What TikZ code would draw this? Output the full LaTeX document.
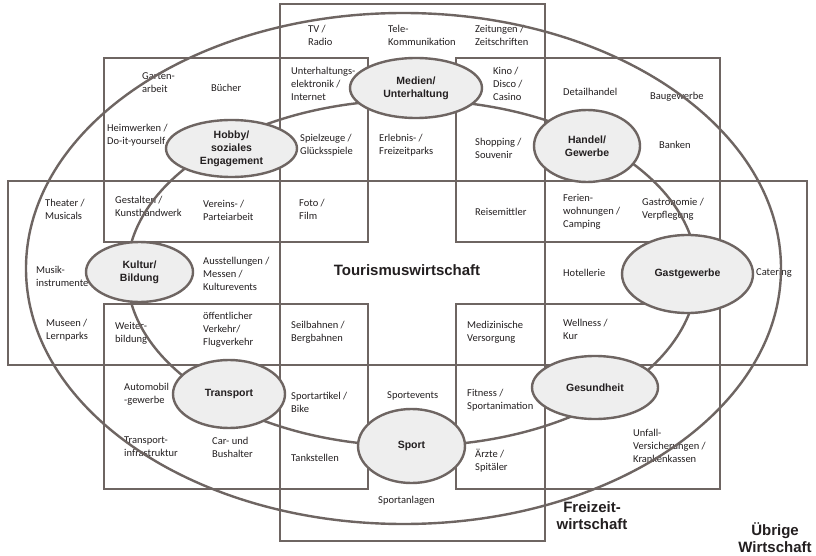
\documentclass[tikz,border=0pt]{standalone}
\usepackage{fontspec}
\setmainfont{Carlito}
\newfontfamily\headfont{Liberation Sans}
\usetikzlibrary{shapes.geometric}
\definecolor{frame}{RGB}{110,101,98}
\definecolor{bubble}{RGB}{238,238,238}
\definecolor{ink}{RGB}{35,31,32}
\begin{document}
\begin{tikzpicture}[x=1pt,y=-1pt,
  item/.style={anchor=west, align=left, inner sep=0pt,
    font=\fontsize{10.5}{13}\selectfont, text=ink},
  field/.style={draw=frame, line width=2.6pt},
  ring/.style={draw=frame, line width=2.4pt},
  sector/.style={ellipse, draw=frame, line width=2.4pt, fill=bubble,
    inner sep=0pt, align=center,
    font=\headfont\bfseries\fontsize{10.5}{13}\selectfont, text=ink},
  title/.style={align=center, inner sep=0pt,
    font=\headfont\bfseries\fontsize{15}{17}\selectfont, text=ink}]

\useasboundingbox[fill=white] (0,0) rectangle (816,556);

% ---- branch labels ----
% top row
\node[item] (tv)      at (308,35)  {TV /\\Radio};
\node[item] (tele)    at (388,35)  {Tele-\\Kommunikation};
\node[item] (zeit)    at (475,35)  {Zeitungen /\\Zeitschriften};
% upper left block
\node[item] (garten)  at (142,83)  {Garten-\\arbeit};
\node[item] (buecher) at (211,88)  {Bücher};
\node[item] (heim)    at (107,135) {Heimwerken /\\Do-it-yourself};
% upper middle
\node[item] (ue)      at (291,84)  {Unterhaltungs-\\elektronik /\\Internet};
\node[item] (kino)    at (493,84)  {Kino /\\Disco /\\Casino};
\node[item] (spiel)   at (300,145) {Spielzeuge /\\Glücksspiele};
\node[item] (erleb)   at (379,145) {Erlebnis- /\\Freizeitparks};
\node[item] (shop)    at (475,148) {Shopping /\\Souvenir};
% upper right block
\node[item] (detail)  at (563,92)  {Detailhandel};
\node[item] (bau)     at (650,97)  {Baugewerbe};
\node[item] (banken)  at (659,145) {Banken};
% middle band, left
\node[item] (theater) at (45,209)  {Theater /\\Musicals};
\node[item] (gestalt) at (115,206) {Gestalten /\\Kunsthandwerk};
\node[item] (verein)  at (203,210) {Vereins- /\\Parteiarbeit};
\node[item] (musik)   at (36,276)  {Musik-\\instrumente};
\node[item] (ausst)   at (203,274) {Ausstellungen /\\Messen /\\Kulturevents};
\node[item] (museen)  at (46,330)  {Museen /\\Lernparks};
\node[item] (weiter)  at (115,333) {Weiter-\\bildung};
\node[item] (oev)     at (203,330) {öffentlicher\\Verkehr/\\Flugverkehr};
% middle band, centre
\node[item] (foto)    at (299,209) {Foto /\\Film};
\node[item] (reise)   at (475,212) {Reisemittler};
\node[item] (seil)    at (291,332) {Seilbahnen /\\Bergbahnen};
\node[item] (medi)    at (467,332) {Medizinische\\Versorgung};
\node[title] (tour)   at (407,270) {Tourismuswirtschaft};
% middle band, right
\node[item] (ferien)  at (563,212) {Ferien-\\wohnungen /\\Camping};
\node[item] (gastro)  at (642,209) {Gastronomie /\\Verpflegung};
\node[item] (hotel)   at (563,273) {Hotellerie};
\node[item] (cater)   at (756,273) {Catering};
\node[item] (well)    at (563,329) {Wellness /\\Kur};
% lower left block
\node[item] (auto)    at (124,394) {Automobil\\-gewerbe};
\node[item] (tinfra)  at (124,447) {Transport-\\infrastruktur};
\node[item] (car)     at (212,447) {Car- und\\Bushalter};
% lower middle
\node[item] (sartikel) at (291,402) {Sportartikel /\\Bike};
\node[item] (sevent)  at (387,396) {Sportevents};
\node[item] (fit)     at (467,400) {Fitness /\\Sportanimation};
\node[item] (tank)    at (291,458) {Tankstellen};
\node[item] (aerzte)  at (475,461) {Ärzte /\\Spitäler};
\node[item] (sanl)    at (378,501) {Sportanlagen};
% lower right block
\node[item] (unfall)  at (633,446) {Unfall-\\Versicherungen /\\Krankenkassen};
% economy labels
\node[title] (frei)   at (592,516) {Freizeit-\\wirtschaft};
\node[title] (uebrig) at (775,538) {Übrige\\Wirtschaft};

% ---- cross of fields ----
\draw[field] (280,4) rectangle (545,541);
\draw[field] (8,181) rectangle (807,365);
\draw[field] (104,58) rectangle (368,242);
\draw[field] (456,58) rectangle (720,242);
\draw[field] (104,304) rectangle (368,489);
\draw[field] (456,304) rectangle (720,489);

% ---- rings ----
\draw[ring] (403.5,268.5) ellipse [x radius=377.5pt, y radius=255.5pt];
\draw[ring] (412,273) ellipse [x radius=285pt, y radius=173pt];

% ---- sectors ----
\node[sector, minimum width=132pt, minimum height=60pt] (medien)    at (416,88)    {Medien/\\Unterhaltung};
\node[sector, minimum width=131pt, minimum height=57pt] (hobby)     at (231.5,148.5) {Hobby/\\soziales\\Engagement};
\node[sector, minimum width=106pt, minimum height=72pt] (handel)    at (587,146)   {Handel/\\Gewerbe};
\node[sector, minimum width=107pt, minimum height=60pt] (kultur)    at (139.5,272) {Kultur/\\Bildung};
\node[sector, minimum width=131pt, minimum height=78pt] (gast)      at (687.5,274) {Gastgewerbe};
\node[sector, minimum width=112pt, minimum height=68pt] (transport) at (229,394)   {Transport};
\node[sector, minimum width=126pt, minimum height=63pt] (gesund)    at (595,387.5) {Gesundheit};
\node[sector, minimum width=107pt, minimum height=74pt] (sport)     at (411.5,446) {Sport};

\end{tikzpicture}
\end{document}
